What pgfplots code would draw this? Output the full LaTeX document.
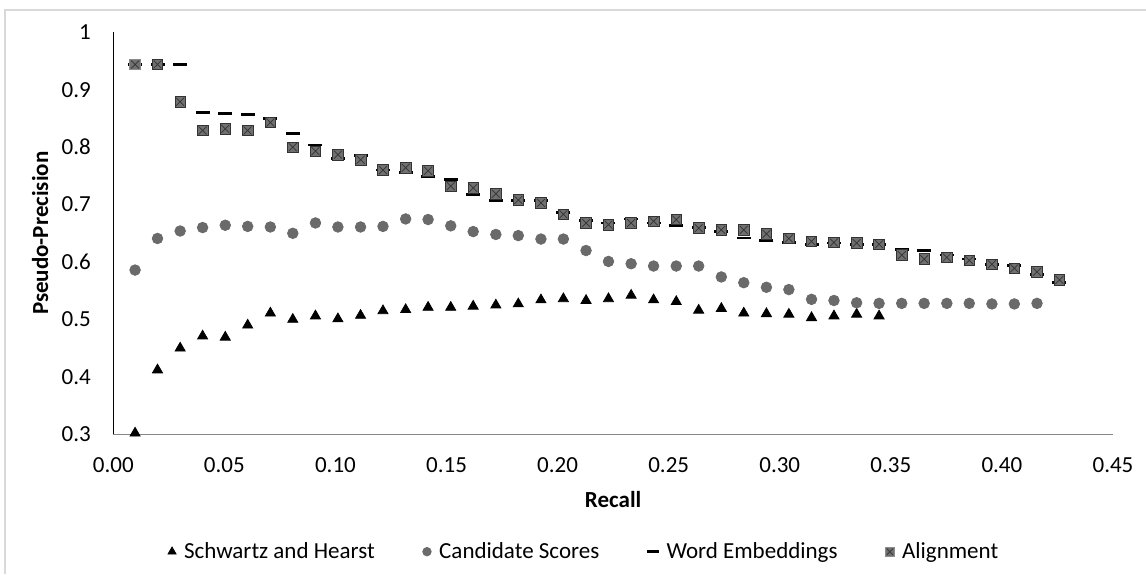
\documentclass[border=0pt]{standalone}
\usepackage{fontspec}
\setmainfont{Carlito}
\usepackage{pgfplots}
\pgfplotsset{compat=1.18}
\usepackage{pgfplotstable}

\definecolor{mkgray}{RGB}{106,106,106}
\definecolor{sqfill}{RGB}{112,112,112}
\definecolor{axgray}{RGB}{134,134,134}
\definecolor{framegray}{RGB}{217,217,217}

% filled square with a dark cross, like the Excel marker
\pgfdeclareplotmark{sqx}{%
  \pgfpathrectangle{\pgfpoint{-\pgfplotmarksize}{-\pgfplotmarksize}}{\pgfpoint{2\pgfplotmarksize}{2\pgfplotmarksize}}%
  \pgfusepathqfillstroke
  \pgfsetstrokecolor{black!80}%
  \pgfsetlinewidth{0.35pt}%
  \pgfpathmoveto{\pgfpoint{-0.75\pgfplotmarksize}{-0.75\pgfplotmarksize}}%
  \pgfpathlineto{\pgfpoint{0.75\pgfplotmarksize}{0.75\pgfplotmarksize}}%
  \pgfpathmoveto{\pgfpoint{-0.75\pgfplotmarksize}{0.75\pgfplotmarksize}}%
  \pgfpathlineto{\pgfpoint{0.75\pgfplotmarksize}{-0.75\pgfplotmarksize}}%
  \pgfusepathqstroke
}

% x = recall, sh = Schwartz and Hearst, cs = Candidate Scores,
% we = Word Embeddings, al = Alignment
\pgfplotstableread{
x      sh     cs     we     al
0.0098 0.302  0.586  0.944  0.944
0.0199 0.412  0.641  0.944  0.944
0.0301 0.450  0.654  0.944  0.879
0.0402 0.471  0.660  0.860  0.829
0.0504 0.469  0.664  0.859  0.832
0.0605 0.490  0.662  0.857  0.829
0.0707 0.511  0.661  0.850  0.843
0.0808 0.500  0.650  0.824  0.800
0.0910 0.506  0.668  0.804  0.793
0.1011 0.501  0.661  0.780  0.787
0.1113 0.507  0.661  0.785  0.778
0.1214 0.515  0.662  0.760  0.760
0.1316 0.517  0.675  0.756  0.764
0.1417 0.521  0.674  0.749  0.759
0.1519 0.521  0.663  0.744  0.732
0.1620 0.523  0.653  0.718  0.729
0.1722 0.525  0.648  0.707  0.719
0.1823 0.527  0.646  0.707  0.708
0.1925 0.534  0.640  0.707  0.703
0.2026 0.536  0.640  0.686  0.683
0.2128 0.533  0.620  0.672  0.668
0.2229 0.536  0.601  0.668  0.665
0.2331 0.542  0.597  0.675  0.668
0.2432 0.534  0.593  0.668  0.671
0.2534 0.531  0.593  0.663  0.674
0.2635 0.516  0.593  0.660  0.659
0.2737 0.519  0.574  0.653  0.656
0.2838 0.511  0.564  0.642  0.656
0.2940 0.510  0.556  0.637  0.649
0.3041 0.509  0.552  0.634  0.641
0.3143 0.503  0.535  0.630  0.636
0.3244 0.506  0.533  0.633  0.634
0.3346 0.509  0.529  0.631  0.633
0.3447 0.506  0.528  0.630  0.631
0.3549 nan    0.528  0.622  0.612
0.3650 nan    0.528  0.620  0.605
0.3752 nan    0.528  0.612  0.608
0.3853 nan    0.528  0.605  0.603
0.3955 nan    0.527  0.596  0.596
0.4056 nan    0.527  0.594  0.589
0.4158 nan    0.528  0.578  0.583
0.4259 nan    nan    0.564  0.569
}\pr

\begin{document}
\begin{tikzpicture}
\path[use as bounding box] (0,0) rectangle (573pt,287pt);
\draw[framegray, line width=1pt] (2.5pt,0) -- (2.5pt,282pt) -- (573pt,282pt);
\begin{axis}[
  at={(56.65pt,69.85pt)}, anchor=south west,
  width=499.85pt, height=201pt, scale only axis,
  xmin=0, xmax=0.45, ymin=0.3, ymax=1,
  xtick={0,0.05,0.1,0.15,0.2,0.25,0.3,0.35,0.4,0.45},
  ytick={0.3,0.4,0.5,0.6,0.7,0.8,0.9,1},
  axis x line*=bottom, axis y line*=left,
  x axis line style={-, draw=axgray, line width=0.6pt},
  y axis line style={-, draw=black, line width=0.5pt},
  major tick length=0pt,
  /pgf/number format/assume math mode=true,
  tick label style={font=\fontsize{11.5}{13}\selectfont, text=black},
  xticklabel style={yshift=-8pt, /pgf/number format/.cd, fixed, fixed zerofill, precision=2},
  yticklabel style={xshift=-7.7pt, /pgf/number format/.cd, fixed, precision=1},
  xlabel={Recall}, ylabel={Pseudo-Precision},
  label style={font=\fontsize{11.5}{13}\selectfont\bfseries},
  xlabel style={at={(axis description cs:0.5,-0.163)}, anchor=center},
  ylabel style={at={(axis description cs:-0.0733,0.5)}, anchor=center},
  legend style={draw=none, fill=none, legend columns=-1,
    at={(axis description cs:0.472,-0.292)}, anchor=center,
    font=\fontsize{11.5}{13}\selectfont,
    /tikz/every odd column/.append style={column sep=2pt},
    /tikz/every even column/.append style={column sep=22pt}},
  legend image post style={every mark/.append style={scale=0.8}},
  legend cell align=left,
]
\addplot[only marks, mark=triangle*, mark size=2.9pt, mark options={fill=black, draw=black}] table[x=x, y=sh] {\pr};
\addlegendentry{Schwartz and Hearst}
\addplot[only marks, mark=*, mark size=2.65pt, mark options={fill=mkgray, draw=mkgray}] table[x=x, y=cs] {\pr};
\addlegendentry{Candidate Scores}
\addplot[only marks, mark=-, mark size=3.5pt, mark options={draw=black, line width=1.35pt}] table[x=x, y=we] {\pr};
\addlegendentry{Word Embeddings}
\addplot[only marks, mark=sqx, mark size=2.65pt, mark options={fill=sqfill, draw=black!45, line width=0.4pt}] table[x=x, y=al] {\pr};
\addlegendentry{Alignment}
\end{axis}
\end{tikzpicture}
\end{document}
